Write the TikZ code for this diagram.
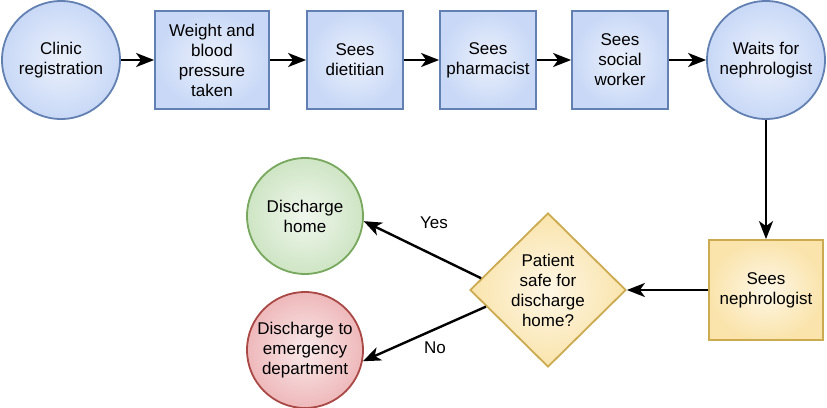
\documentclass[tikz,border=0pt]{standalone}
\usepackage{fontspec}
\setmainfont{Liberation Sans}
\usepackage{tikz}
\usetikzlibrary{shapes.geometric}
\usetikzlibrary{arrows.meta}
\usepackage{xcolor}
\definecolor{blueline}{RGB}{98,128,178}
\definecolor{bluefill}{RGB}{200,216,246}
\definecolor{greenline}{RGB}{120,168,94}
\definecolor{greenfill}{RGB}{206,229,196}
\definecolor{redline}{RGB}{170,72,70}
\definecolor{redfill}{RGB}{238,184,186}
\definecolor{yellowline}{RGB}{204,170,80}
\definecolor{yellowfill}{RGB}{250,228,172}

\begin{document}
\begin{tikzpicture}[x=1pt,y=-1pt,
  every node/.style={font=\fontsize{17}{20}\selectfont,align=center},
  stepbox/.style={draw=blueline,line width=1.8pt,inner color=bluefill!35!white,outer color=bluefill,minimum height=98pt,inner sep=0pt},
  bluecirc/.style={circle,draw=blueline,line width=1.8pt,inner color=bluefill!35!white,outer color=bluefill,minimum size=118pt,inner sep=0pt},
  greencirc/.style={circle,draw=greenline,line width=1.8pt,inner color=greenfill!30!white,outer color=greenfill,minimum size=116pt,inner sep=0pt},
  redcirc/.style={circle,draw=redline,line width=1.8pt,inner color=redfill!30!white,outer color=redfill,minimum size=116pt,inner sep=0pt},
  yellowbox/.style={draw=yellowline,line width=1.8pt,inner color=yellowfill!30!white,outer color=yellowfill,inner sep=0pt},
  arr/.style={-{Stealth[length=18pt,width=14pt,inset=5pt]},line width=2.4pt}]
\useasboundingbox (0,0) rectangle (827,407);
% top row
\node[bluecirc] (reg) at (61,60) {Clinic\\registration};
\node[stepbox,minimum width=114pt] (weight) at (212,60) {Weight and\\blood\\pressure\\taken};
\node[stepbox,minimum width=96pt] (diet) at (355,60) {Sees\\dietitian};
\node[stepbox,minimum width=96pt] (pharm) at (488,60) {Sees\\pharmacist};
\node[stepbox,minimum width=96pt] (social) at (620,60) {Sees\\social\\worker};
\node[bluecirc] (waits) at (766,60) {Waits for\\nephrologist};
% bottom row
\node[yellowbox,minimum width=114pt,minimum height=100pt] (neph) at (766,290) {Sees\\nephrologist};
\node[yellowbox,diamond,minimum width=156pt,minimum height=154pt] (safe) at (548,290) {Patient\\safe for\\discharge\\home?};
\node[greencirc] (home) at (305,216) {Discharge\\home};
\node[redcirc] (emerg) at (305,350) {Discharge to\\emergency\\department};
\node (yes) at (434,223) {Yes};
\node (no) at (435,348) {No};
\draw[arr] (reg) -- (weight);
\draw[arr] (weight) -- (diet);
\draw[arr] (diet) -- (pharm);
\draw[arr] (pharm) -- (social);
\draw[arr] (social) -- (waits);
\draw[arr] (waits) -- (neph);
\draw[arr] (neph) -- (safe);
\draw[arr] (safe.170) -- (home.-5);
\draw[arr] (safe.195) -- (emerg.-11);
\end{tikzpicture}
\end{document}
